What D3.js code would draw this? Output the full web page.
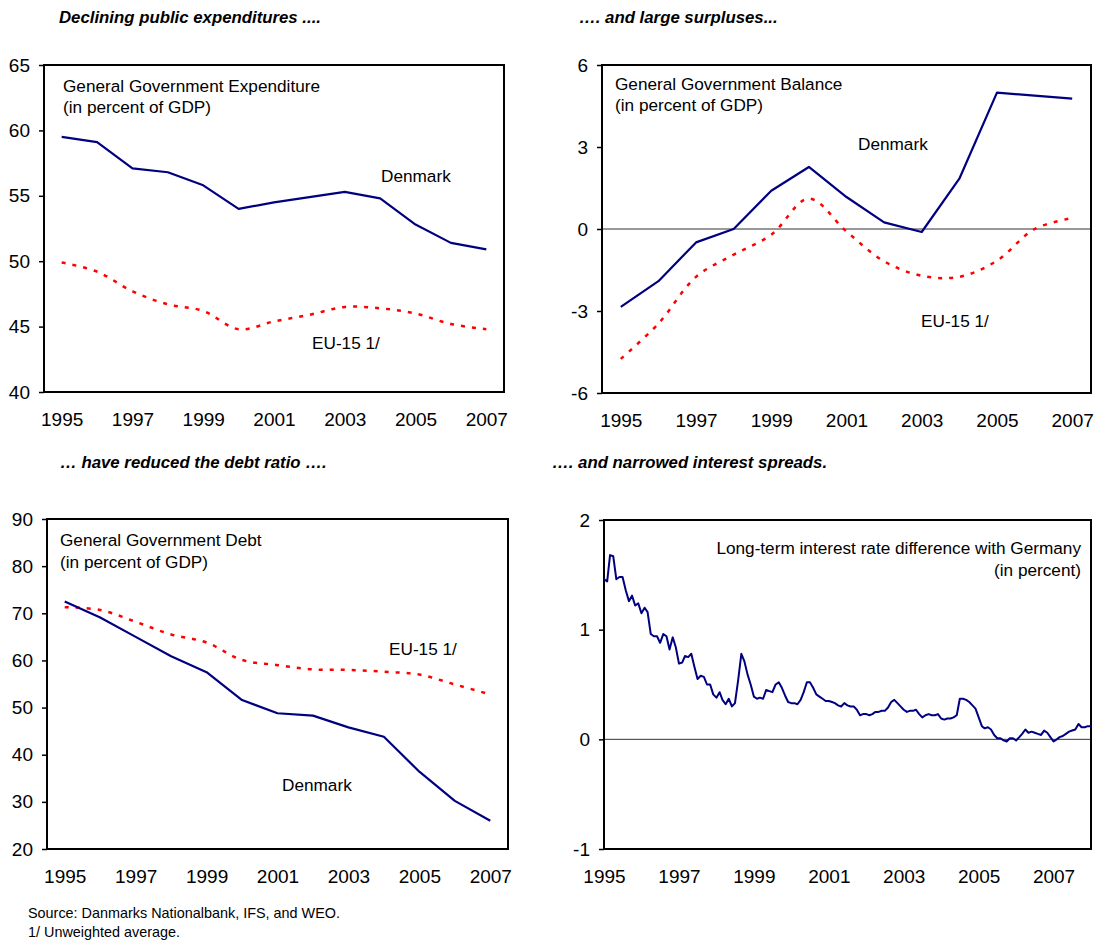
<!DOCTYPE html>
<html>
<head>
<meta charset="utf-8">
<script src="https://cdn.jsdelivr.net/npm/d3@7"></script>
<style>
  body { margin: 0; background: #fff; }
  svg { display: block; font-family: "Liberation Sans", Arial, sans-serif; }
</style>
</head>
<body>
<svg id="chart" width="1095" height="943"></svg>
<script>
'use strict';

// annual categories
var years = [1995, 1996, 1997, 1998, 1999, 2000, 2001, 2002, 2003, 2004, 2005, 2006, 2007];
var yearLabels = [1995, 1997, 1999, 2001, 2003, 2005, 2007];

// general government expenditure, percent of GDP
var expDenmark = [59.5, 59.1, 57.1, 56.8, 55.8, 54.0, 54.5, 54.9, 55.3, 54.8, 52.8, 51.4, 50.9];
var expEU = [49.9, 49.2, 47.7, 46.7, 46.2, 44.8, 45.4, 45.9, 46.5, 46.4, 46.0, 45.2, 44.8];

// general government balance, percent of GDP
var balDenmark = [-2.85, -1.91, -0.49, 0.0, 1.40, 2.27, 1.17, 0.24, -0.11, 1.84, 4.99, 4.88, 4.77];
var balEU = [-4.75, -3.46, -1.75, -0.94, -0.21, 1.11, -0.09, -1.18, -1.71, -1.75, -1.16, 0.0, 0.40];

// general government debt, percent of GDP
var debtDenmark = [72.5, 69.1, 65.0, 60.9, 57.5, 51.6, 48.8, 48.3, 45.8, 43.8, 36.4, 30.2, 26.0];
var debtEU = [71.3, 70.7, 68.2, 65.5, 63.8, 60.1, 59.0, 58.1, 58.0, 57.6, 57.0, 54.9, 52.8];

// long-term interest rate difference with Germany, monthly from Jan 1995
var spreadStart = new Date(1995, 0, 1);
var spread = [
  1.46, 1.44, 1.68, 1.67, 1.46, 1.48, 1.48, 1.36, 1.26, 1.31, 1.22, 1.24,
  1.15, 1.20, 1.16, 0.96, 0.94, 0.94, 0.88, 0.96, 0.94, 0.82, 0.93, 0.84,
  0.69, 0.70, 0.76, 0.75, 0.78, 0.66, 0.55, 0.58, 0.57, 0.50, 0.50, 0.41,
  0.38, 0.43, 0.36, 0.32, 0.37, 0.30, 0.33, 0.54, 0.78, 0.71, 0.59, 0.50,
  0.39, 0.37, 0.38, 0.37, 0.45, 0.44, 0.43, 0.50, 0.52, 0.47, 0.40, 0.34,
  0.33, 0.33, 0.32, 0.36, 0.43, 0.52, 0.52, 0.47, 0.41, 0.39, 0.37, 0.35,
  0.35, 0.34, 0.33, 0.31, 0.30, 0.33, 0.31, 0.30, 0.30, 0.27, 0.22, 0.23,
  0.23, 0.22, 0.23, 0.25, 0.25, 0.26, 0.26, 0.29, 0.34, 0.36, 0.33, 0.30,
  0.27, 0.25, 0.26, 0.26, 0.27, 0.23, 0.20, 0.22, 0.23, 0.22, 0.22, 0.23,
  0.19, 0.18, 0.19, 0.19, 0.20, 0.22, 0.37, 0.37, 0.36, 0.34, 0.31, 0.28,
  0.20, 0.12, 0.10, 0.11, 0.09, 0.04, 0.01, 0.01, -0.01, -0.02, 0.01, 0.01,
  -0.01, 0.02, 0.05, 0.09, 0.06, 0.07, 0.06, 0.05, 0.04, 0.08, 0.06, 0.02,
  -0.02, 0.00, 0.02, 0.03, 0.05, 0.07, 0.08, 0.09, 0.14, 0.11, 0.11, 0.12,
  0.12
];

var svg = d3.select('#chart');
svg.append('rect').attr('width', 1095).attr('height', 943).attr('fill', '#fff');

var NAVY = '#000080';
var RED = '#ff0000';
var TICK_FONT = 19;

function text(x, y, s, opts) {
  opts = opts || {};
  return svg.append('text')
    .attr('x', x).attr('y', y)
    .attr('font-size', opts.size || 17.2)
    .attr('font-weight', opts.weight || null)
    .attr('font-style', opts.style || null)
    .attr('text-anchor', opts.anchor || 'start')
    .attr('fill', '#000')
    .text(s);
}

function title(x, y, s) {
  text(x, y, s, { size: 16.8, weight: 'bold', style: 'italic' });
}

// one framed panel: y axis on the left, x labels below, zero line if asked
function panel(box, yDomain, yTicks, xAxis, zero) {
  var y = d3.scaleLinear().domain(yDomain).range([box.bottom, box.top]);
  var g = svg.append('g');

  var ya = g.append('g')
    .attr('transform', 'translate(' + box.left + ',0)')
    .call(d3.axisLeft(y).tickValues(yTicks).tickSize(5).tickPadding(9)
      .tickFormat(function (d) { return String(d); }));
  ya.select('.domain').remove();
  ya.selectAll('line').attr('stroke', '#000').attr('stroke-width', 1.5);
  ya.selectAll('text').attr('font-size', TICK_FONT).attr('fill', '#000');

  var xa = g.append('g')
    .attr('transform', 'translate(0,' + box.bottom + ')')
    .call(xAxis.tickSize(0).tickPadding(21));
  xa.select('.domain').remove();
  xa.selectAll('text').attr('font-size', TICK_FONT).attr('fill', '#000');

  if (zero) {
    g.append('line')
      .attr('x1', box.left).attr('x2', box.right)
      .attr('y1', y(0)).attr('y2', y(0))
      .attr('stroke', '#333').attr('stroke-width', 1);
  }

  g.append('rect')
    .attr('x', box.left).attr('y', box.top)
    .attr('width', box.right - box.left).attr('height', box.bottom - box.top)
    .attr('fill', 'none').attr('stroke', '#000').attr('stroke-width', 2);

  return { g: g, y: y };
}

function annualLines(p, x, dk, eu) {
  var solid = d3.line().x(function (d, i) { return x(years[i]); }).y(function (d) { return p.y(d); });
  var smooth = d3.line().curve(d3.curveCatmullRom).x(function (d, i) { return x(years[i]); }).y(function (d) { return p.y(d); });
  p.g.append('path').datum(eu).attr('d', smooth)
    .attr('fill', 'none').attr('stroke', RED).attr('stroke-width', 2.5).attr('stroke-dasharray', '4,7');
  p.g.append('path').datum(dk).attr('d', solid)
    .attr('fill', 'none').attr('stroke', NAVY).attr('stroke-width', 2.2).attr('stroke-linejoin', 'round');
}

function yearScale(box) {
  return d3.scalePoint().domain(years).range([box.left, box.right]).padding(0.5);
}

// panel 1: expenditure
var b1 = { left: 44, right: 504, top: 65, bottom: 392 };
var x1 = yearScale(b1);
var p1 = panel(b1, [40, 65], [40, 45, 50, 55, 60, 65], d3.axisBottom(x1).tickValues(yearLabels), false);
annualLines(p1, x1, expDenmark, expEU);
title(59, 23, 'Declining public expenditures ....');
text(63, 92, 'General Government Expenditure');
text(63, 113, '(in percent of GDP)');
text(381, 182, 'Denmark');
text(312, 349, 'EU-15 1/');

// panel 2: balance
var b2 = { left: 602, right: 1091, top: 65, bottom: 393 };
var x2 = yearScale(b2);
var p2 = panel(b2, [-6, 6], [-6, -3, 0, 3, 6], d3.axisBottom(x2).tickValues(yearLabels), true);
annualLines(p2, x2, balDenmark, balEU);
title(579, 23, '\u2026. and large surpluses...');
text(615, 90, 'General Government Balance');
text(615, 111, '(in percent of GDP)');
text(858, 150, 'Denmark');
text(921, 327, 'EU-15 1/');

// panel 3: debt
var b3 = { left: 47, right: 508, top: 519, bottom: 849 };
var x3 = yearScale(b3);
var p3 = panel(b3, [20, 90], [20, 30, 40, 50, 60, 70, 80, 90], d3.axisBottom(x3).tickValues(yearLabels), false);
annualLines(p3, x3, debtDenmark, debtEU);
title(60, 468, '\u2026 have reduced the debt ratio \u2026.');
text(60, 546, 'General Government Debt');
text(60, 568, '(in percent of GDP)');
text(389, 655, 'EU-15 1/');
text(282, 791, 'Denmark');

// panel 4: interest spread
var b4 = { left: 604, right: 1091, top: 520, bottom: 849 };
var spreadDates = spread.map(function (d, i) { return d3.timeMonth.offset(spreadStart, i); });
var x4 = d3.scaleTime().domain([spreadDates[0], spreadDates[spreadDates.length - 1]]).range([b4.left, b4.right]);
var x4Ticks = yearLabels.map(function (yr) { return new Date(yr, 0, 1); });
var p4 = panel(b4, [-1, 2], [-1, 0, 1, 2],
  d3.axisBottom(x4).tickValues(x4Ticks).tickFormat(d3.timeFormat('%Y')), true);
p4.g.append('path').datum(spread)
  .attr('d', d3.line().x(function (d, i) { return x4(spreadDates[i]); }).y(function (d) { return p4.y(d); }))
  .attr('fill', 'none').attr('stroke', NAVY).attr('stroke-width', 2).attr('stroke-linejoin', 'round');
title(552, 468, '\u2026. and narrowed interest spreads.');
text(1081, 554, 'Long-term interest rate difference with Germany', { anchor: 'end' });
text(1081, 576, '(in percent)', { anchor: 'end' });

// notes
text(28, 918, 'Source: Danmarks Nationalbank, IFS, and WEO.', { size: 14.4 });
text(28, 937, '1/ Unweighted average.', { size: 14.4 });
</script>
</body>
</html>
